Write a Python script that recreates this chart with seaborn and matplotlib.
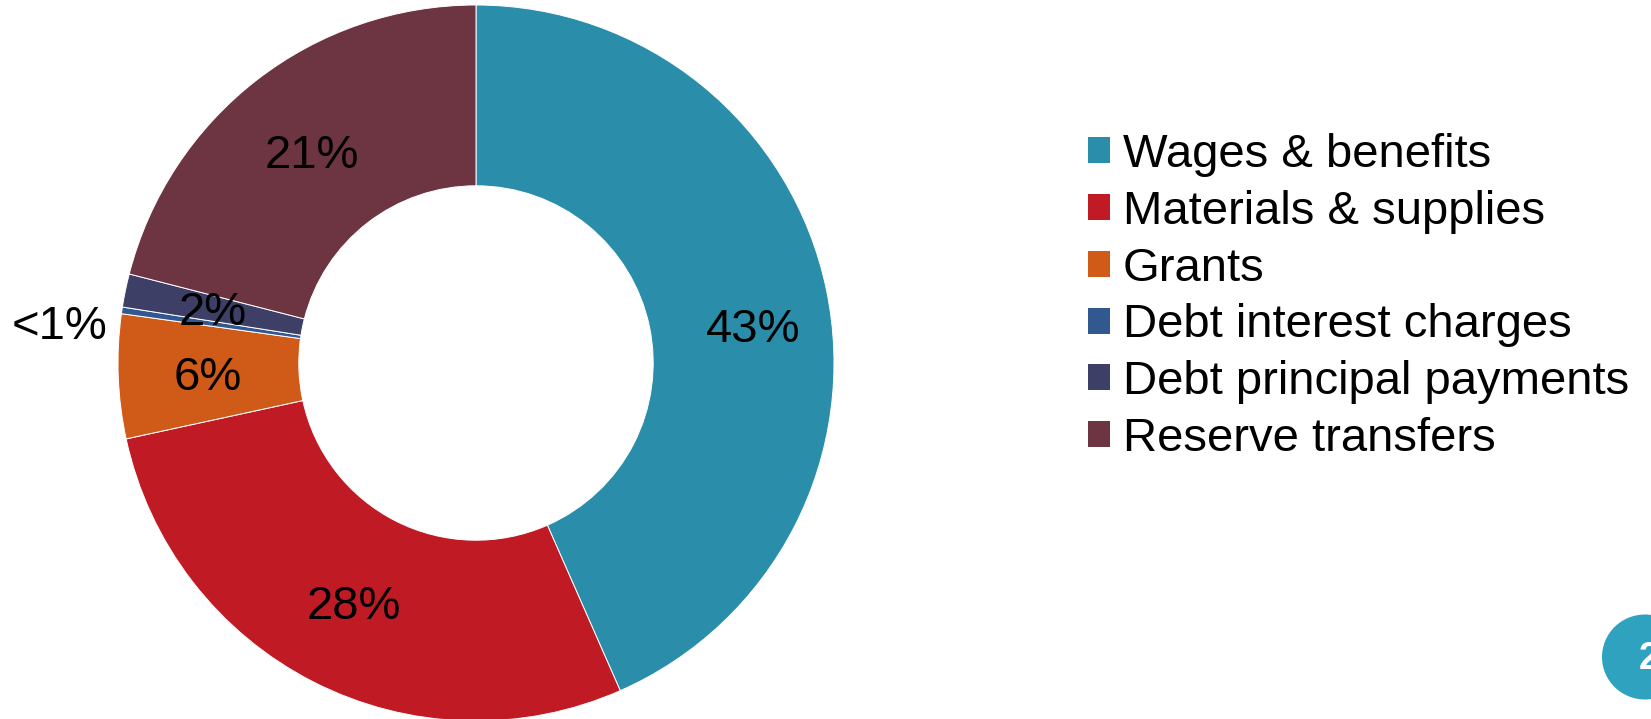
import matplotlib
matplotlib.use("Agg")
import matplotlib.pyplot as plt
from matplotlib.patches import Rectangle, Ellipse
from matplotlib.transforms import offset_copy
import numpy as np
import seaborn as sns

# Operating expenditure breakdown (percent of total)
categories = [
    "Wages & benefits",
    "Materials & supplies",
    "Grants",
    "Debt interest charges",
    "Debt principal payments",
    "Reserve transfers",
]
shares = [43.4, 28.2, 5.6, 0.3, 1.5, 21.0]
colors_hex = ["#2A8EAA", "#C01B24", "#D05A17", "#31598F", "#3E3F66", "#6D3441"]

sns.set_theme(style="white")
plt.rcParams["font.family"] = ["Liberation Sans", "DejaVu Sans"]

palette = sns.color_palette(colors_hex)

W, H, DPI = 1651, 719, 100
FS = 34
fig = plt.figure(figsize=(W / DPI, H / DPI), dpi=DPI)
fig.patch.set_facecolor("white")

# donut axes: centre (476, 363) px, outer radius 358 px
cx, cy, R = 476, 363, 358
ax = fig.add_axes([(cx - R) / W, (H - cy - R) / H, 2 * R / W, 2 * R / H])
ax.axis("off")

wedges, _ = ax.pie(
    shares,
    colors=palette,
    startangle=90,
    counterclock=False,
    radius=1.0,
    wedgeprops=dict(width=0.505, edgecolor="white", linewidth=0.7),
)
ax.set_xlim(-1, 1)
ax.set_ylim(-1, 1)


def pct_label(v):
    return "<1%" if v < 1 else f"{round(v):.0f}%"


# label placement tweaks: (radius, extra angle in degrees)
label_pos = {
    "Wages & benefits": (0.78, -4.1),
    "Debt interest charges": (1.17, 2.8),
}
# baseline shifted down by half the cap height so digits sit centred
txt_tr = offset_copy(ax.transData, fig=fig, x=0, y=-0.358 * FS, units="points")
for w, v, name in zip(wedges, shares, categories):
    r, dth = label_pos.get(name, (0.75, 0.0))
    theta = np.deg2rad((w.theta1 + w.theta2) / 2 + dth)
    ax.text(r * np.cos(theta), r * np.sin(theta), pct_label(v),
            ha="center", va="baseline", fontsize=FS, color="black",
            transform=txt_tr, clip_on=False)

handles = [Rectangle((0, 0), 1, 1, facecolor=c, edgecolor="none") for c in palette]
leg = fig.legend(
    handles, categories,
    loc="center left",
    bbox_to_anchor=(1088 / W, 1 - 297 / H),
    frameon=False,
    fontsize=FS,
    labelcolor="black",
    handlelength=0.466,
    handleheight=0.466,
    handletextpad=0.275,
    labelspacing=0.27,
    borderpad=0,
    borderaxespad=0,
)

# page number badge in the lower-right corner
badge = Ellipse((1645 / W, 1 - 657 / H), 86 / W, 85 / H, transform=fig.transFigure,
                facecolor="#2EA2BF", edgecolor="none")
fig.patches.append(badge)
fig.text(1639 / W, 1 - 659 / H, "2", color="white", fontsize=27, fontweight="bold",
         ha="left", va="center")

fig.savefig("out.png", dpi=DPI, facecolor="white")
